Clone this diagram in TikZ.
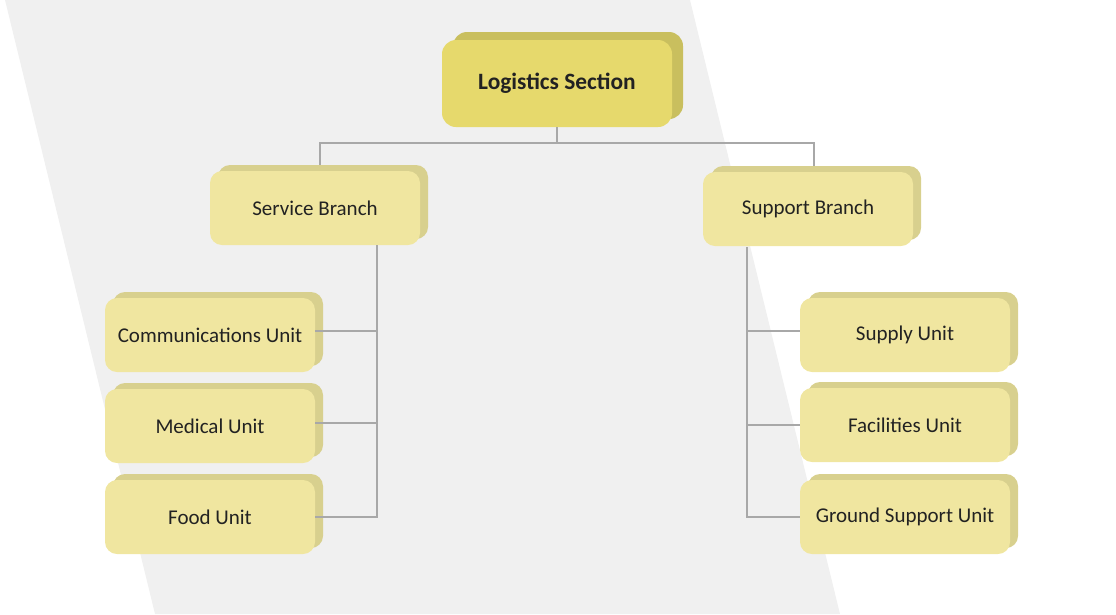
\documentclass[tikz,border=0pt]{standalone}
\usepackage{fontspec}
\setmainfont{Carlito}
\usetikzlibrary{shadows}
\definecolor{bggray}{HTML}{F0F0F0}
\definecolor{linegray}{HTML}{A8A8A8}
\definecolor{topfront}{HTML}{E6D96C}
\definecolor{topback}{HTML}{C9BF5E}
\definecolor{boxfront}{HTML}{F0E6A0}
\definecolor{boxback}{HTML}{D8D08E}
\definecolor{txt}{HTML}{222222}
\tikzset{
  unitbox/.style={fill=boxfront, draw=none, rounded corners=12pt,
    minimum width=210pt, minimum height=74pt, inner sep=0pt,
    font=\fontsize{21}{24}\selectfont, text=txt,
    copy shadow={shadow xshift=8pt, shadow yshift=6pt, fill=boxback, draw=none}},
  topbox/.style={fill=topfront, draw=none, rounded corners=14pt,
    minimum width=230pt, minimum height=87pt, inner sep=0pt,
    font=\fontsize{23.4}{26}\selectfont\bfseries, text=txt,
    copy shadow={shadow xshift=11pt, shadow yshift=8pt, fill=topback, draw=none}},
  conn/.style={draw=linegray, line width=1.5pt}
}
\begin{document}
\begin{tikzpicture}[x=1pt, y=-1pt]
\useasboundingbox (0,0) rectangle (1116,614);
\fill[bggray] (5,0) -- (690,0) -- (840,614) -- (155,614) -- cycle;

\coordinate (bus) at (557,143);
\coordinate (sv) at (377,245);
\coordinate (spv) at (747,247);

\node[topbox] (log) at (557,83.5) {Logistics Section};
\node[unitbox] (serv) at (315,208) {Service Branch};
\node[unitbox] (supb) at (808,209) {Support Branch};
\node[unitbox] (comm) at (210,335) {Communications Unit};
\node[unitbox] (med) at (210,426) {Medical Unit};
\node[unitbox] (food) at (210,517) {Food Unit};
\node[unitbox] (sup) at (905,335) {Supply Unit};
\node[unitbox] (fac) at (905,425) {Facilities Unit};
\node[unitbox] (gsu) at (905,517) {Ground Support Unit};

\draw[conn] (log.south) -- (bus);
\draw[conn] (bus) -| ([xshift=5pt,yshift=6pt]serv.north);
\draw[conn] (bus) -| ([xshift=6pt,yshift=6pt]supb.north);
\draw[conn] (sv) |- (food.east);
\draw[conn] ([yshift=4pt]comm.east) -- ([yshift=4pt]comm.east -| sv);
\draw[conn] ([yshift=3pt]med.east) -- ([yshift=3pt]med.east -| sv);
\draw[conn] (spv) |- (gsu.west);
\draw[conn] ([yshift=4pt]sup.west) -- ([yshift=4pt]sup.west -| spv);
\draw[conn] (fac.west) -- (fac.west -| spv);
\end{tikzpicture}
\end{document}
